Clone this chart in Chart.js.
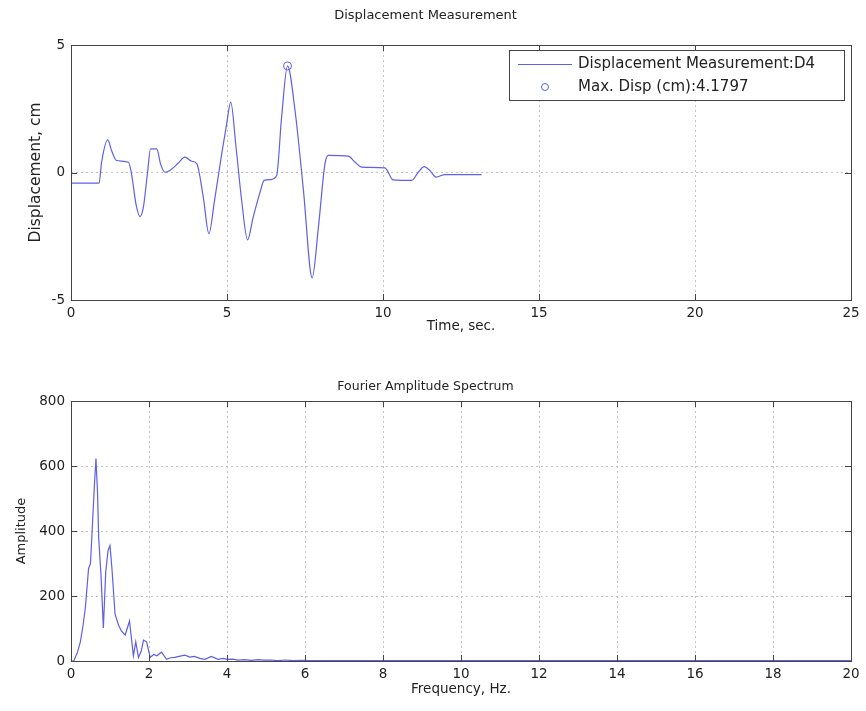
<!DOCTYPE html>
<html>
<head>
<meta charset="utf-8">
<script src="https://cdn.jsdelivr.net/npm/chart.js@4/dist/chart.umd.min.js"></script>
<style>
  body { margin: 0; background: #fff; }
  canvas { display: block; }
</style>
</head>
<body>
<canvas id="dispChart" width="866" height="345"></canvas>
<canvas id="fftChart" width="866" height="366"></canvas>
<script>
// displacement time history
const time = [0, 0.9, 0.98, 1.18, 1.3, 1.46, 1.84, 1.94, 2.08, 2.21, 2.32, 2.45, 2.55, 2.75, 2.87, 3.01, 3.17, 3.44, 3.65, 3.87, 4.03, 4.24, 4.42, 4.6, 4.83, 4.99, 5.12, 5.29, 5.47, 5.66, 5.84, 6.06, 6.19, 6.4, 6.59, 6.75, 6.94, 7.18, 7.45, 7.73, 7.93, 8.14, 8.25, 8.89, 9.1, 9.32, 10.06, 10.33, 10.92, 11.13, 11.32, 11.5, 11.7, 11.99, 13.16];
const disp = [-0.42, -0.42, 0.4, 1.28, 0.86, 0.47, 0.4, -0.05, -1.22, -1.73, -1.36, -0.04, 0.93, 0.93, 0.34, 0.01, 0.08, 0.37, 0.6, 0.44, 0.35, -0.97, -2.4, -1.1, 0.73, 1.91, 2.76, 0.99, -1.1, -2.64, -1.75, -0.77, -0.31, -0.28, -0.12, 2.17, 4.18, 2.43, -0.7, -4.13, -2.14, 0.34, 0.67, 0.64, 0.41, 0.21, 0.18, -0.29, -0.31, 0.01, 0.23, 0.08, -0.18, -0.08, -0.08];
const maxTime = [6.94];
const maxDisp = [4.1797];

// fourier amplitude spectrum
const freq = [0, 0.07, 0.16, 0.24, 0.31, 0.37, 0.45, 0.5, 0.55, 0.6, 0.64, 0.68, 0.71, 0.77, 0.83, 0.89, 0.95, 1.0, 1.05, 1.13, 1.22, 1.3, 1.39, 1.5, 1.6, 1.66, 1.73, 1.8, 1.86, 1.94, 2.03, 2.12, 2.2, 2.32, 2.45, 2.55, 2.66, 2.8, 2.92, 3.05, 3.17, 3.3, 3.43, 3.6, 3.77, 3.9, 4.0, 4.15, 4.28, 4.45, 4.62, 4.8, 4.95, 5.13, 5.3, 5.5, 5.7, 5.9, 6.1, 7, 8, 10, 12, 14, 16, 18, 20];
const amp = [0, 0, 25, 59, 110, 166, 284, 300, 420, 540, 623, 520, 380, 262, 102, 273, 340, 355, 284, 144, 110, 91, 80, 123, 16, 59, 11, 30, 64, 59, 11, 20, 16, 27, 5, 10, 11, 15, 18, 12, 14, 8, 5, 14, 5, 8, 5, 6, 3, 4, 2, 4, 3, 3, 1, 3, 1, 2, 1, 1, 1, 1, 1, 1, 1, 1, 1];

const lineLabel = "Displacement Measurement:D4";
const maxLabel = "Max. Disp (cm):4.1797";
const blue = "#5f5fe8";

Chart.defaults.font.family = "'DejaVu Sans', sans-serif";
Chart.defaults.color = "#222";
Chart.defaults.animation = false;

// matlab style box with inward ticks
const boxPlugin = {
    id: "box",
    afterDraw(chart) {
        const ctx = chart.ctx;
        const a = chart.chartArea;
        ctx.save();
        ctx.strokeStyle = "#444";
        ctx.lineWidth = 1;
        ctx.strokeRect(Math.round(a.left) + 0.5, Math.round(a.top) + 0.5, Math.round(a.right - a.left), Math.round(a.bottom - a.top));
        ctx.beginPath();
        chart.scales.x.ticks.forEach(t => {
            const px = Math.round(chart.scales.x.getPixelForValue(t.value)) + 0.5;
            ctx.moveTo(px, a.bottom); ctx.lineTo(px, a.bottom - 6);
            ctx.moveTo(px, a.top); ctx.lineTo(px, a.top + 6);
        });
        chart.scales.y.ticks.forEach(t => {
            const py = Math.round(chart.scales.y.getPixelForValue(t.value)) + 0.5;
            ctx.moveTo(a.left, py); ctx.lineTo(a.left + 6, py);
            ctx.moveTo(a.right, py); ctx.lineTo(a.right - 6, py);
        });
        ctx.stroke();
        ctx.restore();
    }
};

const legendPlugin = {
    id: "boxLegend",
    afterDraw(chart) {
        const ctx = chart.ctx;
        ctx.save();
        ctx.fillStyle = "#fff";
        ctx.fillRect(509, 50, 335, 50);
        ctx.strokeStyle = "#444";
        ctx.lineWidth = 1;
        ctx.strokeRect(509.5, 50.5, 335, 50);
        ctx.strokeStyle = blue;
        ctx.beginPath();
        ctx.moveTo(518, 64.5); ctx.lineTo(572, 64.5);
        ctx.stroke();
        ctx.beginPath();
        ctx.arc(545, 87, 3.5, 0, Math.PI * 2);
        ctx.stroke();
        ctx.fillStyle = "#222";
        ctx.font = "15px 'DejaVu Sans'";
        ctx.textBaseline = "middle";
        ctx.fillText(lineLabel, 578, 64);
        ctx.fillText(maxLabel, 578, 87);
        ctx.restore();
    }
};

function axisOpts(min, max, step, title, titleSize, titlePad, tickPad, fitSize, horizontal) {
    return {
        type: "linear",
        min: min,
        max: max,
        ticks: { stepSize: step, padding: tickPad, font: { size: 13.5 }, color: "#222", maxRotation: 0 },
        grid: { color: "#c4c4c4", drawTicks: false },
        border: { display: false, dash: [2, 3] },
        title: { display: true, text: title, font: { size: titleSize }, color: "#222", padding: titlePad },
        afterFit(scale) {
            if (horizontal) scale.height = fitSize; else scale.width = fitSize;
        }
    };
}

new Chart(document.getElementById("dispChart"), {
    type: "scatter",
    data: {
        datasets: [{
            label: lineLabel,
            data: time.map((t, i) => ({ x: t, y: disp[i] })),
            showLine: true,
            cubicInterpolationMode: "monotone",
            borderColor: blue,
            borderWidth: 1.2,
            pointRadius: 0
        }, {
            label: maxLabel,
            data: maxTime.map((t, i) => ({ x: t, y: maxDisp[i] })),
            showLine: false,
            pointRadius: 4,
            pointBorderColor: blue,
            pointBackgroundColor: "rgba(0,0,0,0)",
            pointBorderWidth: 1
        }]
    },
    options: {
        responsive: false,
        layout: { padding: { left: 0, right: 15, top: 0, bottom: 0 } },
        plugins: {
            legend: { display: false },
            tooltip: { enabled: false },
            title: { display: true, text: "Displacement Measurement", font: { size: 13, weight: "normal" }, color: "#222", padding: { top: 8, bottom: 21.4 } }
        },
        scales: {
            x: axisOpts(0, 25, 5, "Time, sec.", 13.5, { top: 0, bottom: 10 }, 5, 45, true),
            y: axisOpts(-5, 5, 5, "Displacement, cm", 15.5, { top: 27, bottom: 0 }, 6, 71, false)
        }
    },
    plugins: [boxPlugin, legendPlugin]
});

new Chart(document.getElementById("fftChart"), {
    type: "scatter",
    data: {
        datasets: [{
            label: "Fourier Amplitude Spectrum",
            data: freq.map((f, i) => ({ x: f, y: amp[i] })),
            showLine: true,
            borderColor: blue,
            borderWidth: 1.2,
            pointRadius: 0
        }]
    },
    options: {
        responsive: false,
        layout: { padding: { left: 0, right: 15, top: 0, bottom: 0 } },
        plugins: {
            legend: { display: false },
            tooltip: { enabled: false },
            title: { display: true, text: "Fourier Amplitude Spectrum", font: { size: 12.5, weight: "normal" }, color: "#222", padding: { top: 34.5, bottom: 6.5 } }
        },
        scales: {
            x: axisOpts(0, 20, 2, "Frequency, Hz.", 13.5, { top: 0, bottom: 13 }, 5, 50, true),
            y: axisOpts(0, 800, 200, "Amplitude", 13, { top: 14, bottom: 0 }, 6, 71, false)
        }
    },
    plugins: [boxPlugin]
});
</script>
</body>
</html>
